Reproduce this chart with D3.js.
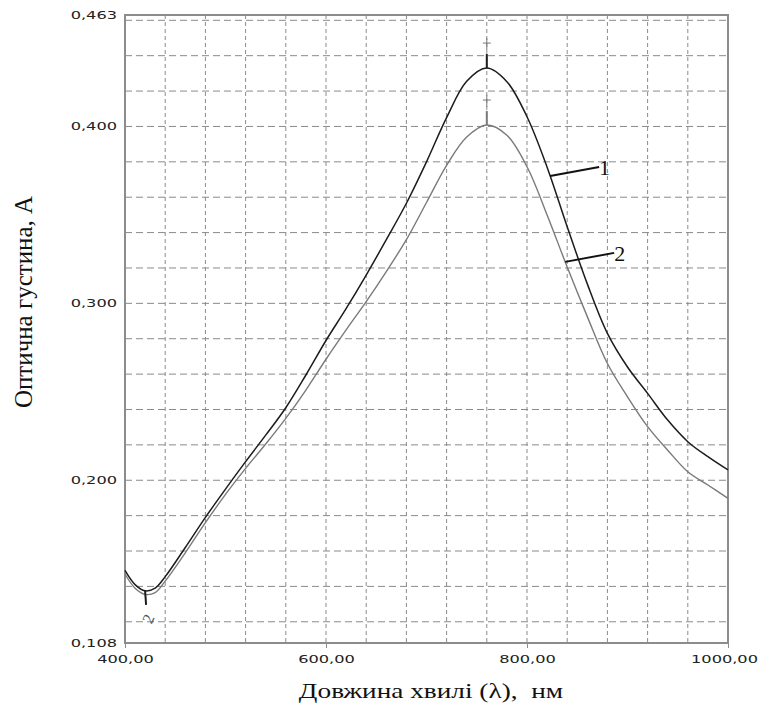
<!DOCTYPE html>
<html>
<head>
<meta charset="utf-8">
<script src="https://cdn.jsdelivr.net/npm/d3@7"></script>
<style>
  body { margin: 0; background: #fff; }
</style>
</head>
<body>
<div id="chart"></div>
<script>
// wavelength, nm
var wavelength = [400, 410, 420, 430, 440, 460, 480, 500, 520, 540, 560, 580, 600, 620, 640, 660, 680,
                  700, 720, 740, 760, 780, 800, 820, 840, 860, 880, 900, 920, 940, 960, 980, 1000];
// curve 1 (dark)
var absorb1 = [0.149, 0.141, 0.1375, 0.139, 0.1455, 0.162, 0.179, 0.195, 0.2105, 0.2255, 0.2410, 0.2595, 0.279, 0.297, 0.316, 0.336, 0.3566,
               0.380, 0.405, 0.4255, 0.433, 0.4253, 0.4055, 0.377, 0.3433, 0.311, 0.283, 0.264, 0.2491, 0.234, 0.2218, 0.2133, 0.2058];
// curve 2 (grey)
var absorb2 = [0.147, 0.139, 0.1355, 0.1365, 0.143, 0.159, 0.176, 0.192, 0.2067, 0.2205, 0.2350, 0.2510, 0.2684, 0.285, 0.301, 0.318, 0.336,
               0.357, 0.378, 0.394, 0.4008, 0.395, 0.3772, 0.350, 0.3205, 0.2925, 0.266, 0.2472, 0.2303, 0.217, 0.2048, 0.1973, 0.1898];

var xTicks = [400, 600, 800, 1000];
var yTicks = [0.108, 0.2, 0.3, 0.4, 0.463];
var xGrid = [440, 480, 520, 560, 600, 640, 680, 720, 760, 800, 840, 880, 920, 960];
var yGrid = [0.12, 0.14, 0.16, 0.18, 0.20, 0.22, 0.24, 0.26, 0.28, 0.30, 0.32, 0.34, 0.36, 0.38, 0.40, 0.42, 0.44, 0.46];

// where the "1" / "2" callouts touch each curve (nm)
var calloutAt = [823, 838];
var calloutNames = ["1", "2"];

var margin = {top: 15, right: 33, bottom: 66, left: 125},
    width = 761 - margin.left - margin.right,
    height = 709 - margin.top - margin.bottom;

var svg = d3.select("#chart")
  .append("svg")
    .attr("width", 761)
    .attr("height", 709)
  .append("g")
    .attr("transform", "translate(" + margin.left + "," + margin.top + ")");

var x = d3.scaleLinear().domain([400, 1000]).range([0, width]);
var y = d3.scaleLinear().domain([0.108, 0.463]).range([height, 0]);

var gridColor = "#8a8a8a";

// grid
svg.selectAll(".hgrid")
  .data(yGrid)
  .enter()
  .append("line")
    .attr("x1", 0).attr("x2", width)
    .attr("y1", function(d) { return y(d); })
    .attr("y2", function(d) { return y(d); })
    .attr("stroke", gridColor)
    .attr("stroke-width", 1)
    .attr("stroke-dasharray", "7,4");

svg.selectAll(".vgrid")
  .data(xGrid)
  .enter()
  .append("line")
    .attr("y1", 0).attr("y2", height)
    .attr("x1", function(d) { return x(d); })
    .attr("x2", function(d) { return x(d); })
    .attr("stroke", gridColor)
    .attr("stroke-width", 1)
    .attr("stroke-dasharray", "4,3");

// frame
svg.append("rect")
    .attr("x", 0).attr("y", 0)
    .attr("width", width).attr("height", height)
    .attr("fill", "none")
    .attr("stroke", "#8c8c8c")
    .attr("stroke-width", 2);

var tickFont = "'DejaVu Sans', sans-serif";
var stretch = 1.62;

// x axis
var xAxis = svg.append("g")
  .attr("transform", "translate(0," + height + ")")
  .call(d3.axisBottom(x)
    .tickValues(xTicks)
    .tickSize(5)
    .tickFormat(function(d) { return d3.format(".2f")(d).replace(".", ","); }));
xAxis.select(".domain").remove();
xAxis.selectAll("line").attr("stroke", "#8c8c8c");
xAxis.selectAll("text")
    .attr("y", 13)
    .attr("x", function(d) { return d === 1000 ? -4 / stretch : 0; })
    .attr("transform", "scale(" + stretch + ",1)")
    .style("font-family", tickFont)
    .style("font-size", "10px")
    .attr("fill", "#222");

// y axis
var yAxis = svg.append("g")
  .call(d3.axisLeft(y)
    .tickValues(yTicks)
    .tickSize(0)
    .tickFormat(function(d) { return d3.format(".3f")(d).replace(".", ","); }));
yAxis.select(".domain").remove();
yAxis.selectAll("text")
    .attr("x", -8 / stretch)
    .attr("transform", "scale(" + stretch + ",1)")
    .style("font-family", tickFont)
    .style("font-size", "10px")
    .attr("fill", "#222");

// axis titles
svg.append("text")
    .attr("transform", "translate(" + (23 - margin.left) + "," + (302 - margin.top) + ")rotate(-90)")
    .attr("text-anchor", "middle")
    .attr("dy", "0.35em")
    .style("font-family", "'Liberation Serif', 'Times New Roman', serif")
    .style("font-size", "25px")
    .attr("fill", "#111")
    .text("Оптична густина, А");

svg.append("text")
    .attr("transform", "translate(" + (431 - margin.left) + "," + (698 - margin.top) + ")scale(1.3,1)")
    .attr("text-anchor", "middle")
    .style("font-family", "'Liberation Serif', 'Times New Roman', serif")
    .style("font-size", "21px")
    .style("white-space", "pre")
    .attr("fill", "#111")
    .text("Довжина хвилі (λ),  нм");

// curves
var line1 = d3.line()
  .x(function(d, i) { return x(wavelength[i]); })
  .y(function(d) { return y(d); })
  .curve(d3.curveCatmullRom);

svg.append("path")
    .datum(absorb2)
    .attr("d", line1)
    .attr("fill", "none")
    .attr("stroke", "#7a7a7a")
    .attr("stroke-width", 1.4);

svg.append("path")
    .datum(absorb1)
    .attr("d", line1)
    .attr("fill", "none")
    .attr("stroke", "#1c1c1c")
    .attr("stroke-width", 1.5);

// peak markers at 760 nm
var peaks = [
  {v: d3.max(absorb1), c: "#1c1c1c"},
  {v: d3.max(absorb2), c: "#7a7a7a"}
];
var peakX = wavelength[absorb1.indexOf(d3.max(absorb1))];
peaks.forEach(function(p) {
  var px = x(peakX), py = y(p.v);
  svg.append("line")
      .attr("x1", px).attr("x2", px)
      .attr("y1", py - 14).attr("y2", py)
      .attr("stroke", p.c).attr("stroke-width", 2);
  svg.append("line")
      .attr("x1", px).attr("x2", px)
      .attr("y1", py - 30).attr("y2", py - 18)
      .attr("stroke", "#777").attr("stroke-width", 1);
  svg.append("line")
      .attr("x1", px - 4).attr("x2", px + 4)
      .attr("y1", py - 25).attr("y2", py - 25)
      .attr("stroke", "#777").attr("stroke-width", 1);
});

// minimum marker
var minV = d3.min(absorb1);
var minX = wavelength[absorb1.indexOf(minV)];
svg.append("line")
    .attr("x1", x(minX)).attr("x2", x(minX) + 1)
    .attr("y1", y(minV)).attr("y2", y(minV) + 14)
    .attr("stroke", "#1c1c1c").attr("stroke-width", 2);
svg.append("text")
    .attr("transform", "translate(" + (x(minX) + 3) + "," + (y(minV) + 28) + ")rotate(-65)")
    .attr("text-anchor", "middle")
    .attr("dy", "0.35em")
    .style("font-family", "'Liberation Serif', serif")
    .style("font-size", "16px")
    .attr("fill", "#555")
    .text("2");

// callouts "1" and "2"
var curves = [absorb1, absorb2];
calloutAt.forEach(function(w, k) {
  var i = d3.bisectLeft(wavelength, w);
  var t = (w - wavelength[i - 1]) / (wavelength[i] - wavelength[i - 1]);
  var v = curves[k][i - 1] + t * (curves[k][i] - curves[k][i - 1]);
  var sx = x(w), sy = y(v);
  svg.append("line")
      .attr("x1", sx).attr("y1", sy)
      .attr("x2", sx + 49).attr("y2", sy - 9)
      .attr("stroke", "#111").attr("stroke-width", 2);
  svg.append("text")
      .attr("x", sx + 49)
      .attr("y", sy - 1)
      .style("font-family", "'Liberation Serif', serif")
      .style("font-size", "22px")
      .attr("fill", "#111")
      .text(calloutNames[k]);
});
</script>
</body>
</html>
